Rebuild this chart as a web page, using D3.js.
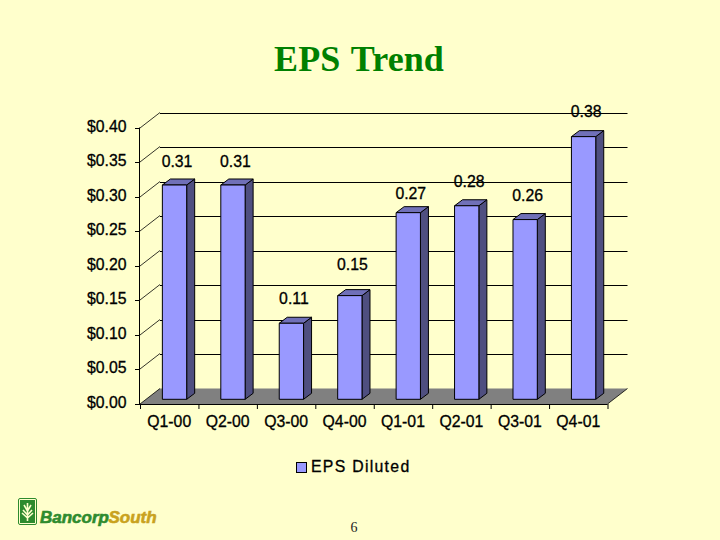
<!DOCTYPE html>
<html><head><meta charset="utf-8">
<script src="https://cdnjs.cloudflare.com/ajax/libs/d3/7.8.5/d3.min.js"></script>
<style>html,body{margin:0;padding:0;background:#FFFFCC}svg{display:block}</style>
</head><body><svg id="c" width="720" height="540"></svg>
<script>
const categories=["Q1-00","Q2-00","Q3-00","Q4-00","Q1-01","Q2-01","Q3-01","Q4-01"];
const epsDiluted=[0.31,0.31,0.11,0.15,0.27,0.28,0.26,0.38];
const valueTicks=[0,0.05,0.10,0.15,0.20,0.25,0.30,0.35,0.40];
const seriesName="EPS Diluted";
const titleText="EPS Trend";
const pageNumber="6";

const svg=d3.select("#c");
const AR="'Liberation Sans',Arial,sans-serif", TNR="'Liberation Serif','Times New Roman',serif";
const x=d3.scaleBand().domain(categories).range([140,607.5]).paddingInner(0.584).paddingOuter(0.292);
const y=d3.scaleLinear().domain([0,0.4]).range([404,127.5]);
const wallDx=20, wallDy=-15.5, barShiftX=5.3, barShiftY=-4.7, depthX=8, depthY=-6;
const labelNudge=[0,0,-1,-7,5,0,0,-1];
const fmt=d3.format("$.2f");
const FS=15.8;
const label=s=>s.attr("font-family",AR).attr("font-size",FS).attr("fill","#000").attr("stroke","#000").attr("stroke-width",0.3);

svg.append("rect").attr("width",720).attr("height",540).attr("fill","#FFFFCC");
svg.append("text").attr("x",359).attr("y",71).attr("text-anchor","middle").attr("letter-spacing",0.1).attr("word-spacing",2)
 .attr("font-family",TNR).attr("font-weight","bold").attr("font-size",36).attr("fill","#008000").text(titleText);

const [x0,x1]=x.range(), y0=y(0);
svg.append("polygon").attr("fill","#808080")
 .attr("points",[[x0,y0],[x0+wallDx,y0+wallDy],[x1+wallDx,y0+wallDy],[x1,y0]].join(" "));
const grid=svg.append("g").attr("stroke","#000").attr("fill","none");
valueTicks.forEach(v=>{
  const yy=Math.round(y(v));
  grid.append("path").attr("stroke-width",0.8).attr("d",`M${x0},${yy}L${x0+wallDx},${yy+wallDy}`);
  if(v>0) grid.append("path").attr("stroke-width",1.2).attr("d",`M${x0+wallDx},${Math.round(yy+wallDy)+.5}H${x1+wallDx}`);
  grid.append("path").attr("stroke-width",1).attr("d",`M${x0-5},${yy+.5}H${x0}`);
  svg.append("text").attr("x",126.5).attr("y",yy+3.5).attr("text-anchor","end").call(label).text(fmt(v));
});
grid.append("path").attr("stroke-width",1).attr("d",`M${x0-.5},${y(0.4)}V${y0}`);
grid.append("path").attr("stroke-width",1).attr("d",`M${x0},${y0+.5}H${x1}`);
grid.append("path").attr("stroke-width",0.8).attr("d",`M${x1},${y0}L${x1+wallDx},${y0+wallDy}`);
const step=x.step();
d3.range(categories.length+1).forEach(i=>{
  grid.append("path").attr("stroke-width",1).attr("d",`M${x0+i*step+.5},${y0}v5`);
});

categories.forEach((c,i)=>{
  const l=x(c)+barShiftX, w=x.bandwidth(), top=y(epsDiluted[i])+barShiftY, base=y0+barShiftY;
  const g=svg.append("g").attr("stroke","#000").attr("stroke-width",1).attr("stroke-linejoin","round");
  g.append("polygon").attr("fill","#4F4F80")
   .attr("points",[[l+w,top],[l+w+depthX,top+depthY],[l+w+depthX,base+depthY],[l+w,base]].join(" "));
  g.append("polygon").attr("fill","#7070B8")
   .attr("points",[[l,top],[l+depthX,top+depthY],[l+w+depthX,top+depthY],[l+w,top]].join(" "));
  g.append("rect").attr("x",l).attr("y",top).attr("width",w).attr("height",base-top).attr("fill","#9999FF");
  svg.append("text").attr("x",l+w/2+2.5).attr("y",top+depthY-12.5+labelNudge[i]).attr("text-anchor","middle").call(label).text(d3.format(".2f")(epsDiluted[i]));
  svg.append("text").attr("x",x(c)+x.bandwidth()/2).attr("y",427).attr("text-anchor","middle").call(label).text(c);
});

svg.append("rect").attr("x",296.5).attr("y",462.5).attr("width",10).attr("height",10).attr("fill","#9999FF").attr("stroke","#000");
svg.append("text").attr("x",311).attr("y",472).attr("letter-spacing",1.3).call(label).text(seriesName);

svg.append("text").attr("x",354).attr("y",532).attr("text-anchor","middle").attr("font-family",TNR).attr("font-size",14).attr("fill","#222").text(pageNumber);

const logo=svg.append("g");
logo.append("rect").attr("x",18.5).attr("y",498.5).attr("width",18).attr("height",26).attr("rx",1.5).attr("fill","none").attr("stroke","#2E8B2E");
logo.append("rect").attr("x",20).attr("y",500).attr("width",15).attr("height",23).attr("fill","#2E8B2E");
logo.append("path").attr("stroke","#FFFFCC").attr("stroke-width",1.6).attr("fill","none")
 .attr("d","M27.5,521V503M27.5,515L23,510M27.5,515L32,510M27.5,511L24,505M27.5,511L31,505M27.5,518L22,513M27.5,518L33,513");
const logoText=(xp,col,str)=>logo.append("text").attr("x",xp).attr("y",522.5).attr("font-family",AR).attr("font-weight","bold").attr("font-style","italic").attr("font-size",17).attr("stroke-width",0.6).attr("fill",col).attr("stroke",col).text(str);
logoText(40,"#2E8B2E","Bancorp");
logoText(108.5,"#C9A21E","South");
</script></body></html>
